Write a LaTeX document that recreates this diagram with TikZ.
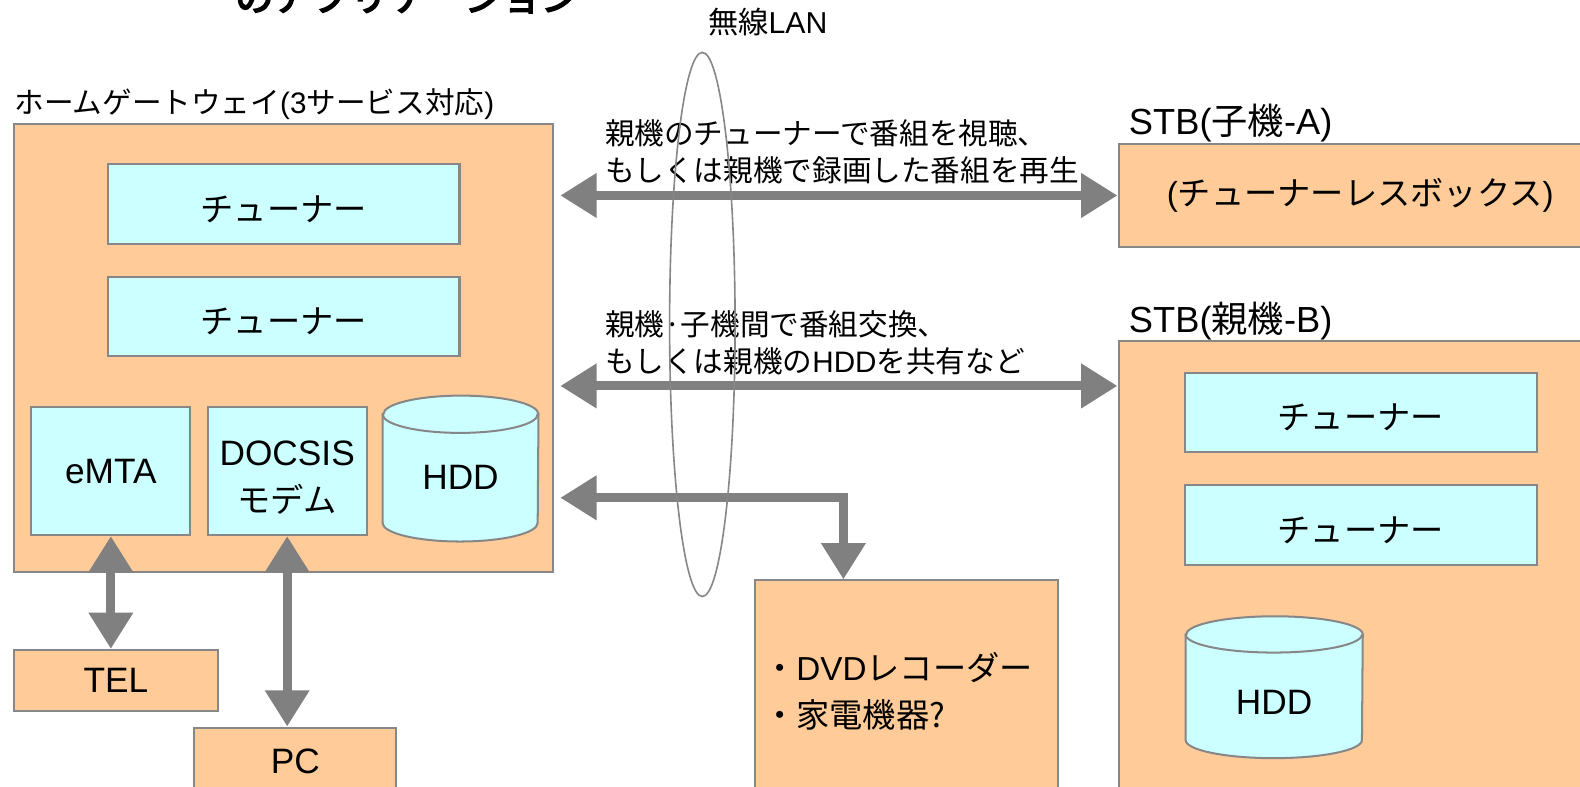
\documentclass[tikz,border=0pt]{standalone}
\usepackage{fontspec}
\setmainfont{Noto Sans CJK JP}
\newfontfamily\latfont{Liberation Sans}
\newfontfamily\titlefont[FakeBold=4]{Noto Sans CJK JP}
\usetikzlibrary{arrows.meta,shapes.geometric,calc}
\definecolor{boxor}{HTML}{FFCC99}
\definecolor{boxcy}{HTML}{CCFFFF}
\definecolor{edgegray}{HTML}{878787}
\definecolor{arrgray}{HTML}{808080}
\tikzset{
  obox/.style={draw=edgegray, fill=boxor, line width=1pt, inner sep=0pt},
  cbox/.style={draw=edgegray, fill=boxcy, line width=1pt, inner sep=0pt},
  dbl/.style={draw=arrgray, line width=4.5pt, {Triangle[length=18pt,width=21pt]}-{Triangle[length=18pt,width=21pt]}},
  jp/.style={font=\fontsize{16.5pt}{23pt}\selectfont, align=center},
  lt/.style={font=\latfont\fontsize{17.5pt}{23pt}\selectfont, align=center},
  lbl/.style={font=\fontsize{14.7pt}{18.5pt}\selectfont, inner sep=0pt, align=left},
  cylfill/.style={fill=boxcy, draw=edgegray, line width=1pt},
  tuner/.style={cbox, jp, minimum width=174.5pt, minimum height=39.5pt, text height=19pt, text depth=1.9pt},
}
\begin{document}
\begin{tikzpicture}[x=0.5pt,y=-0.5pt]
\useasboundingbox (0,0) rectangle (1568,781);
% cut-off title
\node[font=\titlefont\fontsize{19pt}{19pt}\selectfont, anchor=base west, inner sep=0pt] (title) at (233,11) {のアプリケーション};

% Home gateway
\node[lbl, anchor=west] (hglbl) at (14,103) {ホームゲートウェイ{\latfont(3}サービス対応{\latfont)}};
\node[obox, minimum width=267.5pt, minimum height=222.5pt] (hg) at (281.5,345.5) {};
\node[tuner] (t1) at (281.5,202.5) {チューナー};
\node[tuner] (t2) at (281.5,314) {チューナー};
\node[cbox, lt, minimum width=79pt, minimum height=63.5pt] (emta) at (110,467.5) {eMTA};
\node[cbox, minimum width=79pt, minimum height=63.5pt] (docsis) at (285,467.5) {};
\node[lt, inner sep=0pt] (docsist) at (285,474) {DOCSIS\\{\normalfont\fontsize{16.5pt}{23pt}\selectfont モデム}};
% HDD cylinder (home gateway)
\node[minimum width=77pt, minimum height=72pt, inner sep=0pt] (hdd) at (457,465) {};
\path[cylfill] ([yshift=-9.25pt]hdd.north west) -- ([yshift=9.25pt]hdd.south west)
  arc[start angle=180, end angle=360, x radius=38.5pt, y radius=9.25pt]
  -- ([yshift=-9.25pt]hdd.north east)
  arc[start angle=0, end angle=180, x radius=38.5pt, y radius=9.25pt] -- cycle;
\draw[edgegray, line width=1pt] ([yshift=-9.25pt]hdd.north west)
  arc[start angle=180, end angle=360, x radius=38.5pt, y radius=9.25pt];
\node[lt] (hddt) at ([yshift=-4.5pt]hdd.center) {HDD};

% TEL and PC
\node[obox, lt, minimum width=101pt, minimum height=30.5pt] (tel) at (115,675.5) {TEL};
\node[obox, lt, minimum width=100pt, minimum height=34pt] (pc) at (293,756) {PC};
\draw[dbl] (emta.south) -- (emta.south |- tel.north);
\draw[dbl] (docsis.south) -- (docsis.south |- pc.north);

% STB A
\node[anchor=west, inner sep=0pt, font=\fontsize{18pt}{20pt}\selectfont] (stbalbl) at (1120,122) {{\latfont STB(}子機{\latfont -A)}};
\node[obox, jp, minimum width=240pt, minimum height=51pt] (stbA) at (1350,194) {{\latfont(}チューナーレスボックス{\latfont)}};

% STB B
\node[anchor=west, inner sep=0pt, font=\fontsize{18pt}{20pt}\selectfont] (stbblbl) at (1120,319) {{\latfont STB(}親機{\latfont -B)}};
\node[obox, minimum width=240pt, minimum height=231pt] (stbB) at (1350,569) {};
\node[tuner] (tb1) at (1350.5,409.5) {チューナー};
\node[tuner] (tb2) at (1350.5,521) {チューナー};
\node[minimum width=87.5pt, minimum height=70pt, inner sep=0pt] (hddb) at (1264.5,682) {};
\path[cylfill] ([yshift=-9pt]hddb.north west) -- ([yshift=9pt]hddb.south west)
  arc[start angle=180, end angle=360, x radius=43.75pt, y radius=9pt]
  -- ([yshift=-9pt]hddb.north east)
  arc[start angle=0, end angle=180, x radius=43.75pt, y radius=9pt] -- cycle;
\draw[edgegray, line width=1pt] ([yshift=-9pt]hddb.north west)
  arc[start angle=180, end angle=360, x radius=43.75pt, y radius=9pt];
\node[lt] (hddbt) at ([yshift=-7.5pt]hddb.center) {HDD};

% DVD box
\node[obox, minimum width=150.5pt, minimum height=112pt] (dvd) at (899.5,688) {};
\node[anchor=west, inner sep=0pt, align=left, font=\fontsize{16.5pt}{23pt}\selectfont] (dvdt) at (757,686) {・{\latfont DVD}レコーダー\\・家電機器?};

% arrows
\coordinate (p2) at ([yshift=-23pt]stbB.north west);
\coordinate (p3) at (837,494);
\draw[dbl] ([xshift=3pt]hg.east |- stbA.west) -- (stbA.west);
\draw[dbl] ([xshift=3pt]hg.east |- p2) -- (p2);
\draw[dbl] ([xshift=3pt]hg.east |- p3) -| (p3 |- dvd.north);

% labels on arrows
\node[lbl, anchor=north west] (l1) at (600,118) {親機のチューナーで番組を視聴、\\もしくは親機で録画した番組を再生};
\node[lbl, anchor=north west] (l2) at (600,308) {親機·子機間で番組交換、\\もしくは親機の{\latfont HDD}を共有など};

% wireless LAN ellipse
\node[ellipse, draw=edgegray, line width=0.8pt, minimum width=32.5pt, minimum height=270pt, inner sep=0pt] (wlan) at (697,322) {};
\node[font=\fontsize{15pt}{18pt}\selectfont, inner sep=0pt] (wlanlbl) at (762,22) {無線{\latfont LAN}};
\end{tikzpicture}
\end{document}
